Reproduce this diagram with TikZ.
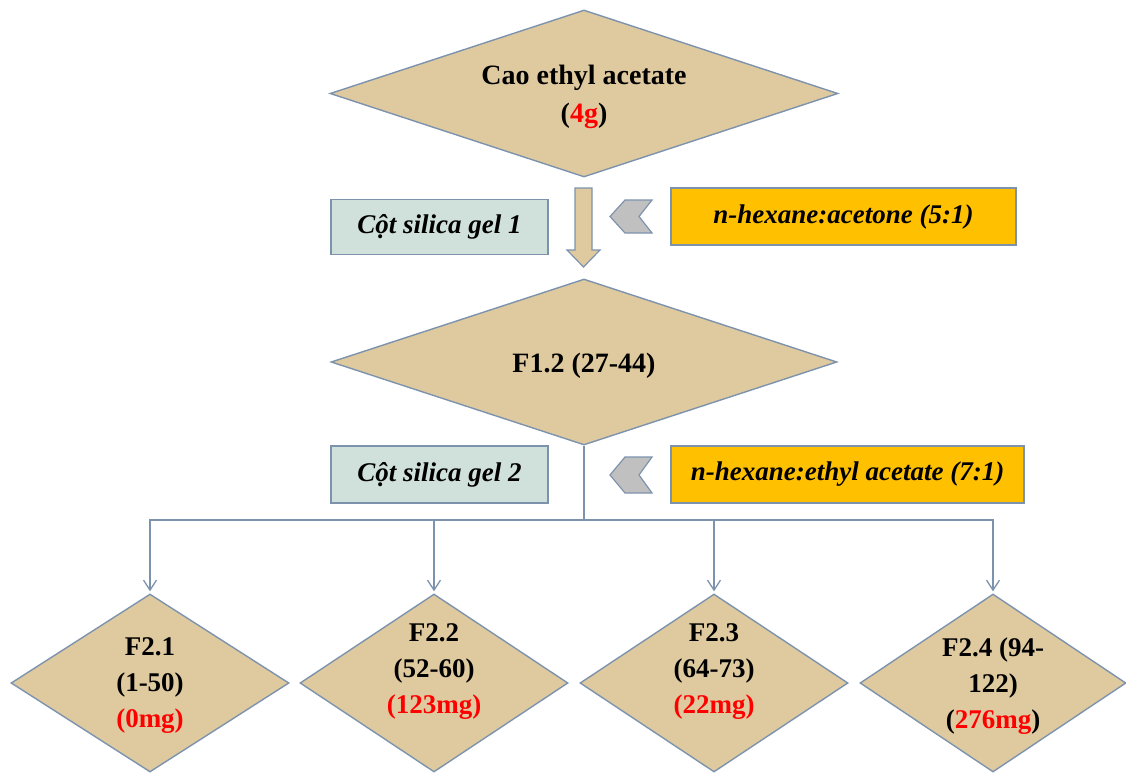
\documentclass[tikz,border=0pt]{standalone}
\usepackage{fontspec}
\setmainfont{Liberation Serif}
\usetikzlibrary{shapes.geometric,arrows.meta}
\definecolor{diafill}{HTML}{DFCA9F}
\definecolor{edgecol}{HTML}{7D93AD}
\definecolor{boxfill}{HTML}{D0E1DC}
\definecolor{goldfill}{HTML}{FFC000}
\definecolor{chevfill}{HTML}{C0C0C0}
\definecolor{redtxt}{HTML}{FF0000}
\begin{document}
\begin{tikzpicture}[x=1pt,y=-1pt,
  dia/.style={diamond, draw=edgecol, line width=1.4pt, fill=diafill, inner sep=0pt},
  bigtxt/.style={align=center, inner sep=0pt, font=\fontsize{28}{38}\selectfont\bfseries},
  smalltxt/.style={align=center, inner sep=0pt, font=\fontsize{27}{36}\selectfont\bfseries},
  greybox/.style={rectangle, draw=edgecol, line width=1.4pt, fill=boxfill, inner sep=0pt,
     font=\fontsize{27}{32}\selectfont\bfseries\itshape},
  goldbox/.style={rectangle, draw=edgecol, line width=1.4pt, fill=goldfill, inner sep=0pt,
     font=\fontsize{27}{32}\selectfont\bfseries\itshape},
  chevron/.style={draw=edgecol, line width=1.2pt, fill=chevfill, line join=miter},
  blockarrow/.style={draw=edgecol, line width=1.2pt, fill=diafill},
  conn/.style={draw=edgecol, line width=1.5pt},
  connarrow/.style={conn, -{Straight Barb[length=10pt,width=13pt,line width=1.3pt]}, shorten >=2pt}
]
\useasboundingbox (0,0) rectangle (1126,772);

% main diamonds
\node[dia, minimum width=508pt, minimum height=167pt] (top) at (584,93.5) {};
\node[bigtxt] (toptxt) at (584,97) {Cao ethyl acetate\\(\textcolor{redtxt}{4g})};

\node[dia, minimum width=506pt, minimum height=166pt] (mid) at (584,362) {};
\node[bigtxt] (midtxt) at (584,366) {F1.2 (27-44)};

% block arrow between top and mid
\draw[blockarrow] (575,188) -- (592,188) -- (592,250) -- (600,250) -- (583.5,267)
   -- (567,250) -- (575,250) -- cycle;

% side boxes, level 1
\node[greybox, minimum width=217pt, minimum height=55pt] (col1) at (439.5,227) {Cột silica gel 1};
\node[goldbox, minimum width=345pt, minimum height=57pt] (sol1) at (843.5,216.5) {n-hexane:acetone (5:1)};
\draw[chevron] (610,216.5) -- (625,200) -- (652,200) -- (639,216.5) -- (652,233) -- (625,233) -- cycle;

% side boxes, level 2
\node[greybox, minimum width=217pt, minimum height=57pt] (col2) at (439.5,474.5) {Cột silica gel 2};
\node[goldbox, minimum width=353pt, minimum height=57pt] (sol2) at (847.5,474.5) {n-hexane:ethyl acetate (7:1)};
\draw[chevron] (610,475) -- (625,457) -- (652,457) -- (639,475) -- (652,493) -- (625,493) -- cycle;

% bottom diamonds
\node[dia, minimum width=278pt, minimum height=178pt] (f21) at (150,683) {};
\node[dia, minimum width=268pt, minimum height=178pt] (f22) at (434,683) {};
\node[dia, minimum width=268pt, minimum height=178pt] (f23) at (714,683) {};
\node[dia, minimum width=266pt, minimum height=178pt] (f24) at (993,683) {};

\node[smalltxt] (t21) at (150,686) {F2.1\\(1-50)\\\textcolor{redtxt}{(0mg)}};
\node[smalltxt] (t22) at (434,672) {F2.2\\(52-60)\\\textcolor{redtxt}{(123mg)}};
\node[smalltxt] (t23) at (714,672) {F2.3\\(64-73)\\\textcolor{redtxt}{(22mg)}};
\node[smalltxt] (t24) at (993,686) {F2.4 (94-\\122)\\(\textcolor{redtxt}{276mg})};

% connectors
\coordinate (split) at (584,520);
\draw[conn] (mid.south) -- (split);
\draw[connarrow] (split) -| (f21.north);
\draw[connarrow] (split) -| (f22.north);
\draw[connarrow] (split) -| (f23.north);
\draw[connarrow] (split) -| (f24.north);
\end{tikzpicture}
\end{document}
